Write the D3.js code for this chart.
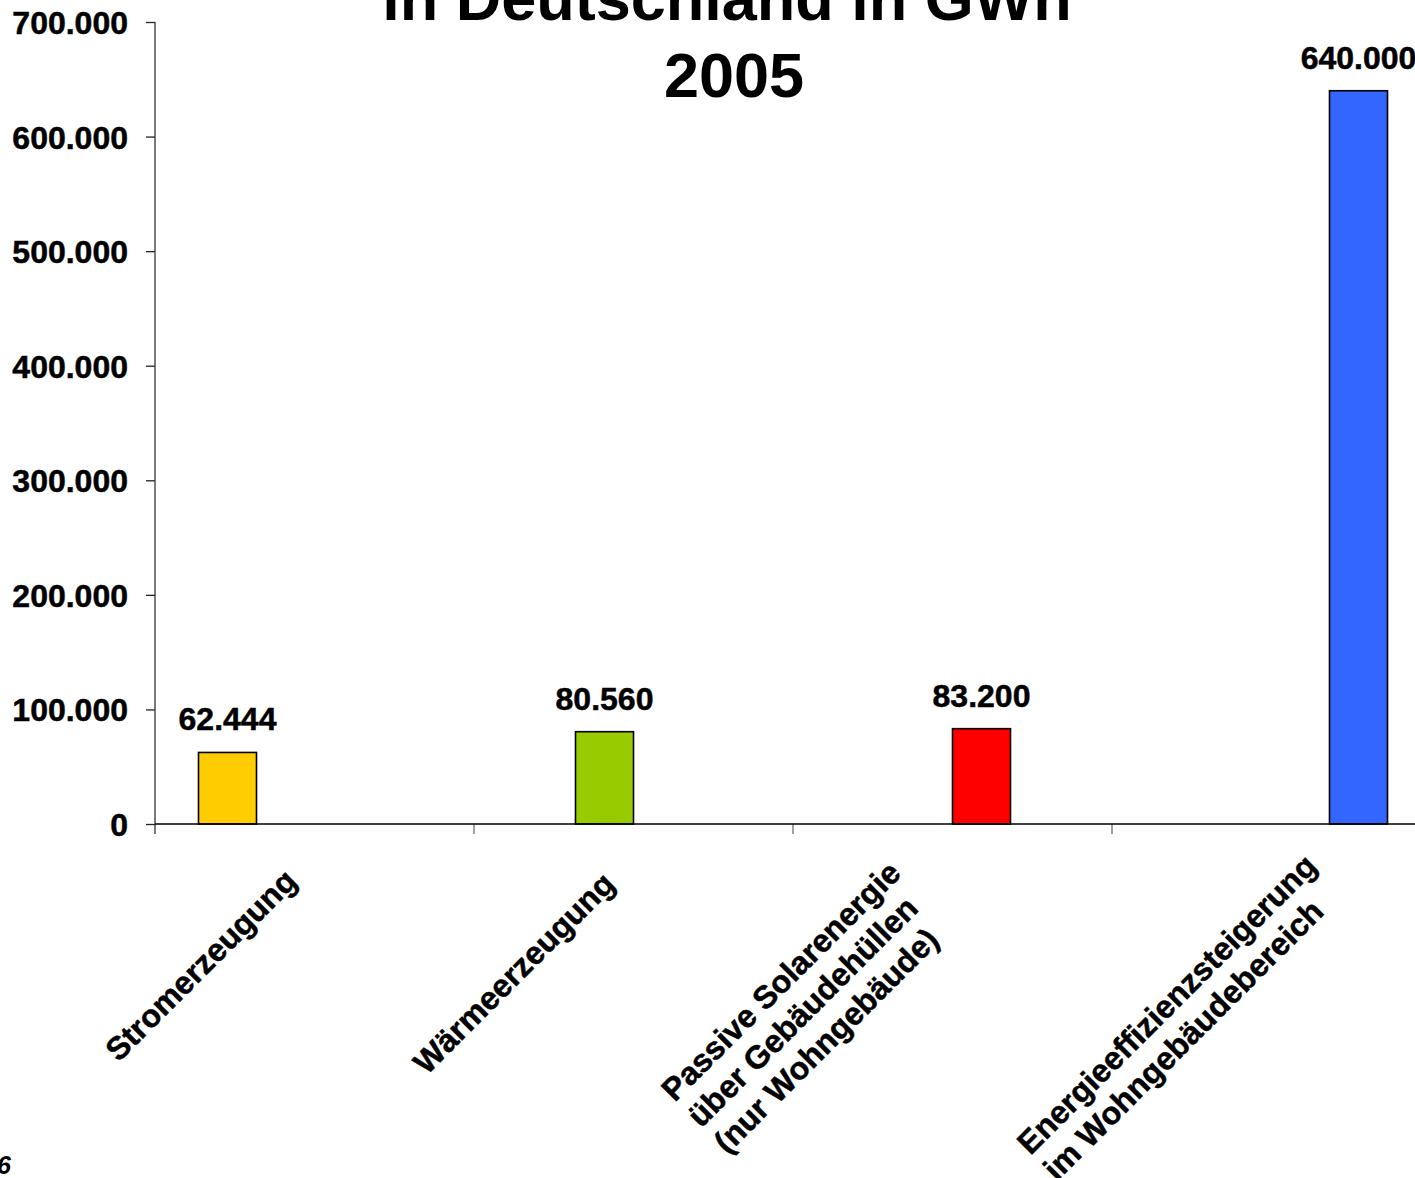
<!DOCTYPE html>
<html>
<head>
<meta charset="utf-8">
<script src="https://cdn.jsdelivr.net/npm/d3@7"></script>
<style>
  html, body { margin: 0; padding: 0; background: #fff; }
  svg { display: block; font-family: "Liberation Sans", Arial, sans-serif; font-weight: bold; }
</style>
</head>
<body>
<svg id="chart" width="1415" height="1178"></svg>
<script>
// ---- data ----
const categories = [
  "Stromerzeugung",
  "Wärmeerzeugung",
  "Passive Solarenergie\nüber Gebäudehüllen\n(nur Wohngebäude)",
  "Energieeffizienzsteigerung\nim Wohngebäudebereich"
];
const seriesNames = ["Stromerzeugung", "Wärmeerzeugung", "Passive Solarenergie", "Energieeffizienzsteigerung"];
const seriesValues = [62444, 80560, 83200, 640000];   // each series has its value in its own category
const seriesColors = ["#FFCC00", "#99CC00", "#FF0000", "#3366FF"];
const yTicks = [0, 100000, 200000, 300000, 400000, 500000, 600000, 700000];
const titleLines = ["in Deutschland in GWh", "2005"];
const footnote = "6";

// ---- layout ----
const W = 1415, H = 1178;
const left = 155, bandW = 319, axisY = 824, topY = 22;
const labelShiftX = [-16, -17, -50, 47];
const labelShiftY = [59, 62, 51, 44];
const fs = 32;

const svg = d3.select("#chart");
const de = d3.formatLocale({decimal: ",", thousands: ".", grouping: [3], currency: ["", "€"]});
const fmt = de.format(",d");

const x = d3.scaleBand().domain(categories).range([left, left + bandW * categories.length]).padding(0);
const xs = d3.scaleBand().domain(seriesNames).range([0, x.bandwidth()]).paddingInner(0).paddingOuter(0.75);
const y = d3.scaleLinear().domain([0, 700000]).range([axisY, topY]);

const heavy = sel => sel.attr("stroke", "#000").attr("stroke-width", 0.5);

// title
svg.append("g").selectAll("text").data(titleLines).join("text")
  .attr("x", (d, i) => i === 0 ? 727 : 734).attr("y", (d, i) => 20 + i * 77)
  .attr("text-anchor", "middle").attr("font-size", 63).attr("fill", "#000")
  .text(d => d);

// y axis
const yAxis = svg.append("g").attr("transform", `translate(${left},0)`)
  .call(d3.axisLeft(y).tickValues(yTicks).tickFormat(d => d === 0 ? "0" : fmt(d)).tickSize(9).tickPadding(18));
yAxis.select(".domain").remove();
yAxis.selectAll(".tick line").attr("stroke", "#222").attr("stroke-width", 1.3);
yAxis.selectAll(".tick text").attr("font-size", fs).attr("font-family", "Liberation Sans, Arial, sans-serif")
  .attr("font-weight", "bold").attr("fill", "#000").attr("dy", "0.36em").call(heavy);
svg.append("line").attr("x1", left).attr("x2", left).attr("y1", y(700000)).attr("y2", axisY + 10)
  .attr("stroke", "#333").attr("stroke-width", 1.3);

// category ticks
const bounds = d3.range(1, categories.length).map(i => x(categories[i]));
svg.append("g").selectAll("line").data(bounds).join("line")
  .attr("x1", d => d).attr("x2", d => d).attr("y1", axisY).attr("y2", axisY + 10)
  .attr("stroke", "#808080").attr("stroke-width", 1.5);

// bars
const barData = categories.map((c, i) => ({cat: c, ser: seriesNames[i], v: seriesValues[i], col: seriesColors[i]}));
svg.append("g").selectAll("rect").data(barData).join("rect")
  .attr("x", d => x(d.cat) + xs(d.ser))
  .attr("y", d => y(d.v))
  .attr("width", xs.bandwidth())
  .attr("height", d => axisY - y(d.v))
  .attr("fill", d => d.col).attr("stroke", "#000").attr("stroke-width", 1.6);

// value labels
svg.append("g").selectAll("text").data(barData).join("text")
  .attr("x", d => x(d.cat) + xs(d.ser) + xs.bandwidth() / 2)
  .attr("y", d => y(d.v) - 22)
  .attr("text-anchor", "middle").attr("font-size", fs).attr("fill", "#000")
  .call(heavy)
  .text(d => fmt(d.v));

// x axis line
svg.append("line").attr("x1", left).attr("x2", W).attr("y1", axisY).attr("y2", axisY)
  .attr("stroke", "#000").attr("stroke-width", 1.5);

// category labels (rotated -45°, lines start-aligned, block ending at anchor)
categories.forEach((c, i) => {
  const lines = c.split("\n");
  const g = svg.append("g")
    .attr("transform", `translate(${x(c) + x.bandwidth() / 2 + labelShiftX[i]},${axisY + labelShiftY[i]}) rotate(-45)`);
  const t = g.selectAll("text").data(lines).join("text")
    .attr("font-size", fs).attr("fill", "#000").attr("text-anchor", "start")
    .attr("y", (d, j) => j * 37)
    .call(heavy)
    .text(d => d);
  let maxW = 0;
  t.each(function() { maxW = Math.max(maxW, this.getComputedTextLength()); });
  t.attr("x", -maxW);
});

// footnote
svg.append("text").attr("x", -3).attr("y", 1174).attr("font-size", 25).attr("font-style", "italic")
  .attr("fill", "#000").text(footnote);
</script>
</body>
</html>
